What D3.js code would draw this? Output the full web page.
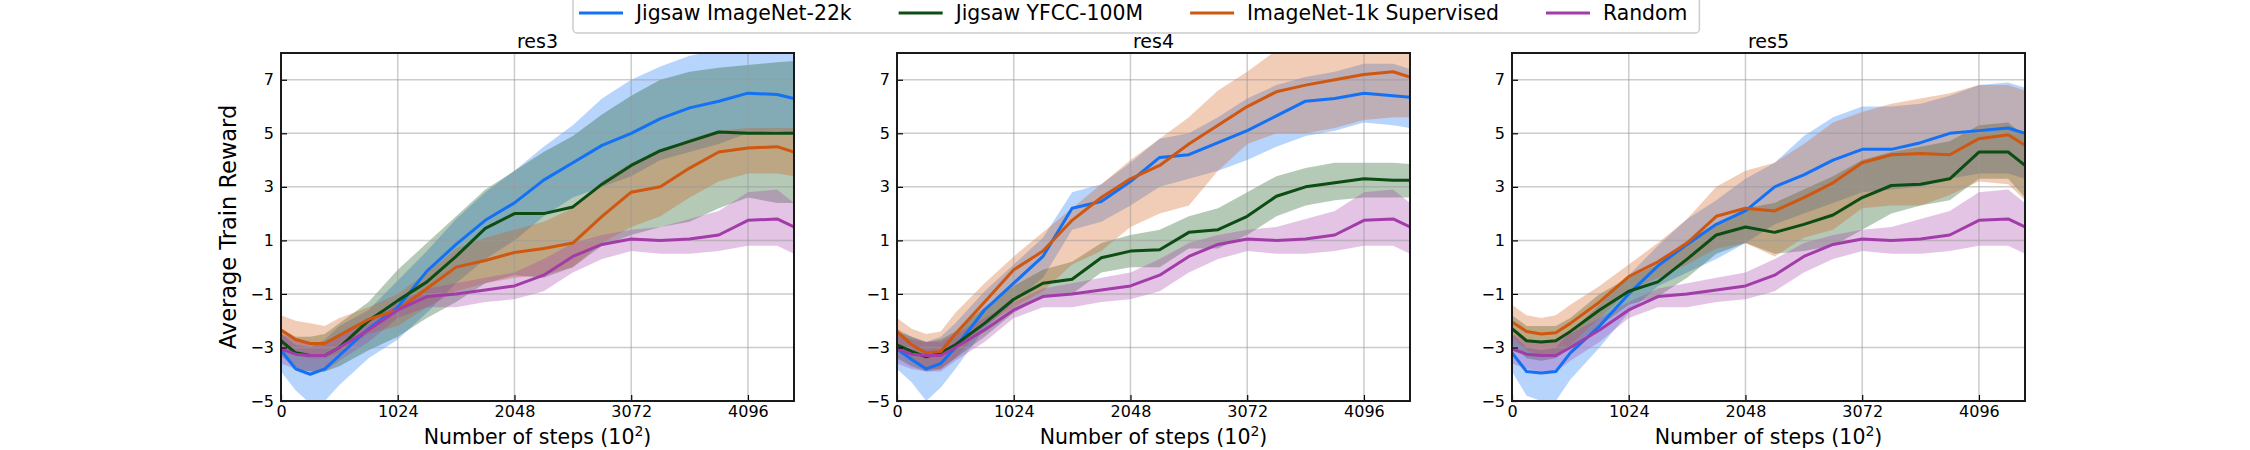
<!DOCTYPE html>
<html>
<head>
<meta charset="utf-8">
<script src="https://cdn.jsdelivr.net/npm/d3@7"></script>
<style>
  body { margin: 0; background: #fff; }
  svg { font-family: "DejaVu Sans", sans-serif; display: block; }
</style>
</head>
<body>
<svg id="chart" width="2250" height="450"></svg>
<script>
// training steps (x 10^2) at which values were read
const steps = [0, 128, 256, 384, 512, 768, 1024, 1280, 1536, 1792, 2048, 2304, 2560, 2816, 3072, 3328, 3584, 3840, 4096, 4352, 4500];
const xTicks = [0, 1024, 2048, 3072, 4096];
const yTicks = [-5, -3, -1, 1, 3, 5, 7];
const seriesNames = ["Jigsaw ImageNet-22k", "Jigsaw YFCC-100M", "ImageNet-1k Supervised", "Random"];
const panelTitles = ["res3", "res4", "res5"];

// Random baseline (same in every panel)
const randMean = [-3.05, -3.25, -3.3, -3.3, -3.0, -2.35, -1.6, -1.1, -1.0, -0.85, -0.7, -0.3, 0.4, 0.85, 1.05, 1.0, 1.05, 1.2, 1.75, 1.8, 1.5];
const randHi = [-2.5, -2.7, -2.8, -2.8, -2.5, -1.9, -1.3, -0.8, -0.6, -0.4, -0.2, 0.3, 0.9, 1.2, 1.4, 1.5, 1.8, 2.1, 2.8, 2.9, 2.4];
const randLo = [-3.6, -3.8, -3.9, -3.9, -3.5, -2.8, -1.9, -1.5, -1.5, -1.3, -1.2, -0.9, -0.2, 0.3, 0.6, 0.5, 0.5, 0.6, 0.8, 0.8, 0.5];

// res3
const res3In22kMean = [-3.1, -3.8, -4.0, -3.8, -3.3, -2.3, -1.5, -0.15, 0.85, 1.75, 2.4, 3.25, 3.9, 4.55, 5.0, 5.55, 5.95, 6.2, 6.5, 6.45, 6.3];
const res3In22kHi = [-2.5, -2.9, -3.0, -2.7, -2.2, -1.6, -0.5, 0.6, 1.8, 2.8, 3.6, 4.5, 5.3, 6.3, 7.0, 7.5, 7.9, 8.1, 8.3, 8.3, 8.1];
const res3In22kLo = [-3.9, -4.6, -5.1, -5.0, -4.4, -3.4, -2.7, -1.7, -0.6, 0.3, 1.0, 1.9, 2.6, 3.0, 3.4, 4.0, 4.3, 4.6, 5.0, 5.1, 5.0];
const res3YfccMean = [-2.75, -3.2, -3.3, -3.3, -3.0, -2.0, -1.25, -0.55, 0.4, 1.45, 2.0, 2.0, 2.25, 3.1, 3.8, 4.35, 4.7, 5.05, 5.0, 5.0, 5.0];
const res3YfccHi = [-2.3, -2.6, -2.6, -2.5, -2.1, -1.3, -0.1, 0.9, 1.9, 2.9, 3.6, 4.3, 4.9, 5.7, 6.4, 7.0, 7.3, 7.45, 7.55, 7.65, 7.7];
const res3YfccLo = [-3.3, -3.8, -3.9, -3.9, -3.7, -3.1, -2.6, -1.9, -1.3, -0.6, -0.3, -0.4, 0.0, 0.8, 1.2, 1.5, 1.7, 2.2, 2.6, 2.4, 2.4];
const res3SupMean = [-2.35, -2.7, -2.85, -2.85, -2.55, -1.95, -1.6, -0.8, 0.0, 0.25, 0.55, 0.7, 0.9, 1.9, 2.8, 3.0, 3.7, 4.3, 4.45, 4.5, 4.3];
const res3SupHi = [-1.8, -2.0, -2.1, -2.2, -1.9, -1.5, -1.0, -0.2, 0.7, 1.1, 1.4, 1.7, 2.2, 3.2, 3.9, 4.3, 4.8, 5.1, 5.2, 5.2, 5.2];
const res3SupLo = [-2.9, -3.3, -3.4, -3.4, -3.2, -2.5, -2.2, -1.5, -0.9, -0.6, -0.4, -0.3, 0.0, 0.9, 1.5, 1.9, 2.6, 3.2, 3.5, 3.5, 3.4];

// res4
const res4In22kMean = [-3.05, -3.45, -3.8, -3.6, -3.0, -1.6, -0.6, 0.4, 2.2, 2.45, 3.2, 4.1, 4.2, 4.65, 5.1, 5.65, 6.2, 6.3, 6.5, 6.4, 6.35];
const res4In22kHi = [-2.3, -2.6, -2.8, -2.6, -2.1, -0.9, 0.1, 1.1, 2.8, 3.1, 3.9, 4.8, 5.0, 5.6, 6.3, 6.8, 7.1, 7.3, 7.6, 7.6, 7.4];
const res4In22kLo = [-3.8, -4.3, -5.0, -4.5, -3.8, -2.3, -1.3, -0.4, 1.4, 1.7, 2.3, 3.0, 3.3, 3.6, 4.0, 4.5, 4.9, 5.1, 5.4, 5.3, 5.2];
const res4YfccMean = [-2.9, -3.15, -3.35, -3.2, -2.9, -2.1, -1.2, -0.6, -0.45, 0.35, 0.6, 0.65, 1.3, 1.4, 1.9, 2.65, 3.0, 3.15, 3.3, 3.25, 3.25];
const res4YfccHi = [-2.4, -2.6, -2.8, -2.7, -2.4, -1.5, -0.7, -0.1, 0.2, 0.9, 1.2, 1.4, 1.9, 2.2, 2.8, 3.4, 3.7, 3.9, 3.9, 3.9, 3.85];
const res4YfccLo = [-3.4, -3.7, -3.9, -3.8, -3.4, -2.6, -1.7, -1.1, -1.0, -0.2, 0.0, 0.0, 0.7, 0.7, 1.2, 1.9, 2.3, 2.5, 2.6, 2.6, 2.6];
const res4SupMean = [-2.4, -2.9, -3.2, -3.15, -2.5, -1.3, -0.1, 0.6, 1.75, 2.6, 3.3, 3.8, 4.6, 5.3, 6.0, 6.55, 6.8, 7.0, 7.2, 7.3, 7.1];
const res4SupHi = [-1.9, -2.3, -2.5, -2.4, -1.7, -0.6, 0.4, 1.3, 2.2, 3.1, 4.0, 4.8, 5.6, 6.6, 7.3, 8.1, 8.3, 8.4, 8.5, 8.5, 8.3];
const res4SupLo = [-2.9, -3.5, -3.8, -3.8, -3.4, -2.2, -1.5, -0.9, 0.1, 0.6, 1.5, 2.0, 2.3, 3.6, 4.6, 5.0, 5.0, 5.2, 5.5, 5.6, 5.6];

// res5
const res5In22kMean = [-3.2, -3.9, -3.95, -3.9, -3.2, -2.2, -1.0, 0.05, 0.85, 1.6, 2.1, 3.0, 3.45, 4.0, 4.4, 4.4, 4.65, 5.0, 5.1, 5.2, 5.0];
const res5In22kHi = [-2.5, -3.0, -3.1, -3.0, -2.4, -1.4, -0.3, 0.8, 1.8, 2.5, 3.3, 3.9, 4.9, 5.6, 6.0, 6.0, 6.1, 6.4, 6.8, 6.9, 6.7];
const res5In22kLo = [-3.9, -4.8, -5.0, -5.0, -4.2, -3.0, -1.7, -0.7, -0.2, 0.3, 0.9, 1.6, 2.0, 2.4, 2.8, 2.9, 3.0, 3.3, 3.5, 3.5, 3.3];
const res5YfccMean = [-2.3, -2.75, -2.8, -2.75, -2.4, -1.6, -0.9, -0.55, 0.3, 1.2, 1.5, 1.3, 1.6, 1.95, 2.6, 3.05, 3.1, 3.3, 4.3, 4.3, 3.8];
const res5YfccHi = [-1.8, -2.2, -2.2, -2.2, -1.9, -1.0, -0.4, 0.1, 1.0, 1.6, 2.2, 2.4, 2.9, 3.4, 4.0, 4.3, 4.5, 4.7, 5.3, 5.4, 4.9];
const res5YfccLo = [-2.9, -3.4, -3.5, -3.4, -3.0, -2.2, -1.4, -1.1, -0.4, 0.5, 0.9, 0.5, 0.6, 0.8, 1.4, 2.0, 2.3, 2.5, 3.3, 3.3, 2.6];
const res5SupMean = [-2.05, -2.4, -2.5, -2.45, -2.1, -1.3, -0.35, 0.2, 0.9, 1.9, 2.2, 2.1, 2.6, 3.15, 3.9, 4.2, 4.25, 4.2, 4.8, 4.95, 4.55];
const res5SupHi = [-1.4, -1.8, -1.9, -1.8, -1.4, -0.7, 0.1, 0.9, 1.8, 3.0, 3.6, 3.9, 4.6, 5.4, 5.8, 6.1, 6.3, 6.5, 6.8, 6.8, 6.6];
const res5SupLo = [-2.6, -3.1, -3.3, -3.3, -2.9, -1.9, -0.9, -0.4, 0.1, 0.7, 0.9, 0.4, 1.1, 1.4, 2.2, 2.3, 2.3, 2.7, 3.2, 3.1, 2.5];

const colors = ["#1271f5", "#0b4d12", "#cf5710", "#a23ca8"];

// per panel: [mean, hi, lo] for each series, in legend order
const panelData = [
    [[res3In22kMean, res3In22kHi, res3In22kLo], [res3YfccMean, res3YfccHi, res3YfccLo], [res3SupMean, res3SupHi, res3SupLo], [randMean, randHi, randLo]],
    [[res4In22kMean, res4In22kHi, res4In22kLo], [res4YfccMean, res4YfccHi, res4YfccLo], [res4SupMean, res4SupHi, res4SupLo], [randMean, randHi, randLo]],
    [[res5In22kMean, res5In22kHi, res5In22kLo], [res5YfccMean, res5YfccHi, res5YfccLo], [res5SupMean, res5SupHi, res5SupLo], [randMean, randHi, randLo]]
];

const svg = d3.select("#chart");
const panelLeft = [281, 897, 1512];
const pw = 513, plotTop = 53, plotBottom = 401;
const fmt = d => (d < 0 ? "\u2212" + Math.abs(d) : String(d));

panelData.forEach((series, p) => {
    let left = panelLeft[p];
    let x = d3.scaleLinear().domain([0, 4500]).range([left, left + pw]);
    let y = d3.scaleLinear().domain([-5, 8]).range([plotBottom, plotTop]);
    let g = svg.append("g");

    g.append("clipPath").attr("id", "clip" + p)
        .append("rect")
        .attr("x", left).attr("y", plotTop).attr("width", pw).attr("height", plotBottom - plotTop);

    let plot = g.append("g").attr("clip-path", "url(#clip" + p + ")");

    // bands
    series.forEach((s, i) => {
        let area = d3.area()
            .x((d, k) => x(steps[k]))
            .y0((d, k) => y(s[2][k]))
            .y1((d, k) => y(s[1][k]));
        plot.append("path")
            .datum(s[0])
            .attr("d", area)
            .attr("fill", colors[i])
            .attr("fill-opacity", 0.3);
    });

    // grid
    plot.selectAll(".gx").data(xTicks.slice(1)).enter().append("line")
        .attr("x1", d => x(d)).attr("x2", d => x(d))
        .attr("y1", plotTop).attr("y2", plotBottom)
        .attr("stroke", "#999").attr("stroke-opacity", 0.5).attr("stroke-width", 1.5);
    plot.selectAll(".gy").data(yTicks.slice(1)).enter().append("line")
        .attr("x1", left).attr("x2", left + pw)
        .attr("y1", d => y(d)).attr("y2", d => y(d))
        .attr("stroke", "#999").attr("stroke-opacity", 0.5).attr("stroke-width", 1.5);

    // mean lines
    series.forEach((s, i) => {
        let line = d3.line()
            .x((d, k) => x(steps[k]))
            .y(d => y(d));
        plot.append("path")
            .datum(s[0])
            .attr("d", line)
            .attr("fill", "none")
            .attr("stroke", colors[i])
            .attr("stroke-width", 3)
            .attr("stroke-linejoin", "round");
    });

    // axes, ticks pointing inward
    let xa = g.append("g")
        .attr("transform", "translate(0," + plotBottom + ")")
        .call(d3.axisBottom(x).tickValues(xTicks).tickSize(-6).tickPadding(5).tickFormat(d3.format("d")));
    let ya = g.append("g")
        .attr("transform", "translate(" + left + ",0)")
        .call(d3.axisLeft(y).tickValues(yTicks).tickSize(-6).tickPadding(7).tickFormat(fmt));
    [xa, ya].forEach(a => {
        a.select(".domain").remove();
        a.selectAll("text").attr("font-size", 16).attr("fill", "#000").attr("font-family", "DejaVu Sans");
        a.selectAll("line").attr("stroke", "#000").attr("stroke-width", 1.2);
    });

    g.append("rect")
        .attr("x", left).attr("y", plotTop).attr("width", pw).attr("height", plotBottom - plotTop)
        .attr("fill", "none").attr("stroke", "#1a1a1a").attr("stroke-width", 2);

    g.append("text")
        .attr("x", left + pw / 2).attr("y", 48)
        .attr("text-anchor", "middle").attr("font-size", 19)
        .text(panelTitles[p]);

    let xl = g.append("text")
        .attr("x", left + pw / 2).attr("y", 444)
        .attr("text-anchor", "middle").attr("font-size", 20.5);
    xl.append("tspan").text("Number of steps (10");
    xl.append("tspan").attr("baseline-shift", "super").attr("font-size", 14).text("2");
    xl.append("tspan").text(")");

    if (p == 0) {
        g.append("text")
            .attr("transform", "translate(236," + (plotTop + plotBottom) / 2 + ") rotate(-90)")
            .attr("text-anchor", "middle").attr("font-size", 22.5)
            .text("Average Train Reward");
    }
});

// legend
let leg = svg.append("g");
let box = leg.append("rect")
    .attr("y", -8).attr("height", 41).attr("rx", 4)
    .attr("fill", "#fff").attr("stroke", "#cccccc").attr("stroke-width", 1.5);
let lx = 579;
seriesNames.forEach((name, i) => {
    leg.append("line")
        .attr("x1", lx).attr("x2", lx + 44).attr("y1", 13).attr("y2", 13)
        .attr("stroke", colors[i]).attr("stroke-width", 3);
    let t = leg.append("text")
        .attr("x", lx + 57).attr("y", 20).attr("font-size", 20.4)
        .text(name);
    lx = lx + 57 + t.node().getComputedTextLength() + 47;
});
box.attr("x", 573).attr("width", lx - 47 + 12 - 573);
</script>
</body>
</html>
